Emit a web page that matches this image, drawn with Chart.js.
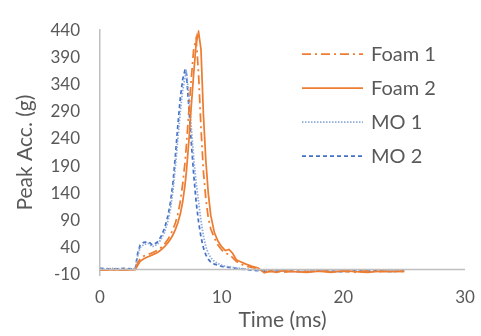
<!DOCTYPE html>
<html>
<head>
<meta charset="utf-8">
<script src="https://cdn.jsdelivr.net/npm/chart.js@4.4.0/dist/chart.umd.min.js"></script>
<style>
  html, body { margin: 0; padding: 0; background: #fff; }
  #wrap { width: 481px; height: 336px; }
</style>
</head>
<body>
<div id="wrap"><canvas id="chart" width="481" height="336"></canvas></div>
<script>
// Time axis (ms), shared by all series
const timeMs = [0, 1, 2, 2.9, 3.1, 3.3, 3.6, 4, 4.3, 4.7, 5, 5.3, 5.6, 5.8,
  6, 6.2, 6.4, 6.6, 6.8, 7, 7.1, 7.3, 7.5, 7.7, 7.9, 8.1, 8.3, 8.5, 8.7, 8.9,
  9.1, 9.4, 9.7, 10, 10.3, 10.6, 10.9, 11.2, 11.6, 12, 12.5, 13, 13.5, 14, 14.5,
  15, 16, 17, 18, 19, 20, 21, 22, 23, 24, 25];

// Peak acceleration (g)
const foam1 = [-1, -1, 0, 0, 12, 20, 25, 28, 31, 35, 40, 47, 56, 64,
  74, 86, 102, 125, 158, 200, 228, 290, 350, 405, 425, 360, 260, 180, 130, 95,
  75, 58, 45, 36, 30, 28, 22, 15, 10, 6, 4, 1, -3, -4, -2,
  -5, -3, -4, -2, -4, -3, -5, -2, -4, -3, -4];
const foam2 = [-1, 0, -1, 0, 8, 15, 20, 24, 27, 31, 36, 42, 50, 56,
  64, 74, 86, 102, 125, 158, 180, 235, 300, 360, 415, 437, 405, 285, 200, 140,
  100, 68, 52, 42, 35, 37, 30, 18, 14, 10, 6, 3, -6, -3, -5,
  -2, -4, -5, -3, -5, -2, -4, -5, -3, -4, -3];
const mo1 = [1, 2, 1, 1, 25, 40, 46, 48, 42, 46, 55, 68, 90, 112,
  145, 190, 240, 290, 330, 355, 362, 320, 262, 205, 160, 125, 90, 62, 42, 30,
  22, 15, 11, 8, 6, 5, 4, 3, 2, 1, 0, -1, -2, -3, -2,
  -3, -4, -2, -3, -4, -3, -2, -4, -3, -2, -3];
const mo2 = [2, 1, 2, 1, 30, 45, 50, 51, 45, 50, 60, 75, 100, 125,
  160, 210, 265, 315, 350, 368, 360, 300, 235, 175, 125, 88, 60, 40, 27, 19,
  14, 10, 8, 6, 5, 4, 3, 2, 1, 0, -1, -2, -3, -2, -3,
  -2, -3, -4, -2, -3, -4, -2, -3, -2, -4, -2];

const seriesNames = ['Foam 1', 'Foam 2', 'MO 1', 'MO 2'];
const yTicks = [-10, 40, 90, 140, 190, 240, 290, 340, 390, 440];
const xTicks = [0, 10, 20, 30];

const orange = '#ED7D31';
const blue = '#4472C4';
const lightBlue = '#8FAADC';
const textGray = '#595959';
const axisGray = '#BFBFBF';
const fontFamily = 'Lato, "Liberation Sans", sans-serif';

function toPoints(values) {
  return values.map((v, i) => ({ x: timeMs[i], y: v }));
}

const styles = [
  { color: orange, dash: [9, 4, 2, 4], width: 1.75 },
  { color: orange, dash: [], width: 1.75 },
  { color: lightBlue, dash: [1.5, 1.5], width: 1.75 },
  { color: blue, dash: [4, 3], width: 1.75 }
];

// Zero line and legend drawn inside the plot area, like the Excel original
const extras = {
  id: 'extras',
  afterDraw(c) {
    const ctx = c.ctx;
    const area = c.chartArea;
    const y0 = c.scales.y.getPixelForValue(0);
    ctx.save();
    ctx.strokeStyle = axisGray;
    ctx.lineWidth = 1.5;
    ctx.beginPath();
    ctx.moveTo(area.left, y0);
    ctx.lineTo(area.right, y0);
    ctx.stroke();

    ctx.font = '20px ' + fontFamily;
    ctx.fillStyle = textGray;
    ctx.textBaseline = 'middle';
    seriesNames.forEach((name, i) => {
      const y = 54 + i * 34;
      ctx.strokeStyle = styles[i].color;
      ctx.lineWidth = styles[i].width;
      ctx.setLineDash(styles[i].dash);
      ctx.beginPath();
      ctx.moveTo(302, y);
      ctx.lineTo(363, y);
      ctx.stroke();
      ctx.fillText(name, 371, y + 1);
    });
    ctx.restore();
  }
};

const ctx = document.getElementById('chart').getContext('2d');
const chart = new Chart(ctx, {
  type: 'line',
  data: {
    datasets: [foam1, foam2, mo1, mo2].map((vals, i) => ({
      label: seriesNames[i],
      data: toPoints(vals),
      borderColor: styles[i].color,
      borderWidth: styles[i].width,
      borderDash: styles[i].dash,
      pointRadius: 0,
      tension: 0,
      fill: false
    }))
  },
  options: {
    responsive: false,
    animation: false,
    layout: { padding: { top: 21, right: 16, left: 0, bottom: 0 } },
    plugins: {
      legend: { display: false },
      tooltip: { enabled: false }
    },
    scales: {
      x: {
        type: 'linear',
        min: 0,
        max: 30,
        afterBuildTicks: s => { s.ticks = xTicks.map(v => ({ value: v })); },
        afterFit: s => { s.height = 61; },
        grid: { display: false },
        border: { display: false },
        ticks: { color: textGray, font: { family: fontFamily, size: 17 }, padding: 4, maxRotation: 0 },
        title: { display: true, text: 'Time (ms)', color: textGray, font: { family: fontFamily, size: 21 }, padding: { top: 0, bottom: 3 } }
      },
      y: {
        min: -10,
        max: 440,
        afterBuildTicks: s => { s.ticks = yTicks.map(v => ({ value: v })); },
        afterFit: s => { s.width = 100; },
        grid: { display: false, drawTicks: false },
        border: { display: true, color: axisGray, width: 1.5 },
        ticks: { color: textGray, font: { family: fontFamily, size: 17 }, padding: 20 },
        title: { display: true, text: 'Peak Acc. (g)', color: textGray, font: { family: fontFamily, size: 21 }, padding: { top: 13, bottom: 0 } }
      }
    }
  },
  plugins: [extras]
});
</script>
</body>
</html>
